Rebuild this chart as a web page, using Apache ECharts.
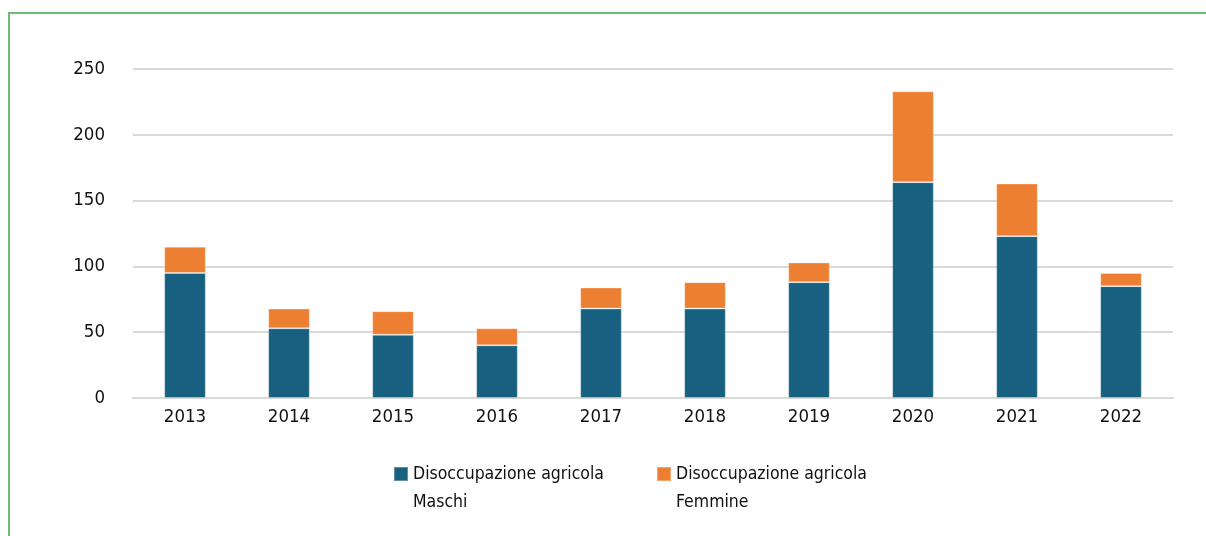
<!DOCTYPE html>
<html>
<head>
<meta charset="utf-8">
<style>
  html, body { margin: 0; padding: 0; background: #ffffff; }
  #chart { width: 1206px; height: 536px; }
</style>
<script src="https://cdn.jsdelivr.net/npm/echarts@6/dist/echarts.min.js"></script>
</head>
<body>
<div id="chart"></div>
<script>
// Agricultural unemployment by sex, 2013-2022 (thousands)
const years = ['2013', '2014', '2015', '2016', '2017', '2018', '2019', '2020', '2021', '2022'];
const maschi = [95, 53, 48, 40, 68, 68, 88, 164, 123, 85];
const femmine = [20, 15, 18, 13, 16, 20, 15, 69, 40, 10];
const seriesNames = ['Disoccupazione agricola\nMaschi', 'Disoccupazione agricola\nFemmine'];
const yTicks = [0, 50, 100, 150, 200, 250];

const FONT = '"DejaVu Sans Condensed", "DejaVu Sans", sans-serif';
const TEXT = '#111111';
const GRID = '#d9d9d9';

// legend swatch: a 14px square sitting beside the first line of a two-line label
const SWATCH = 'path://M0,0H14V14H0Z M0,42L0.01,42';

const chart = echarts.init(document.getElementById('chart'), null, { renderer: 'canvas' });

chart.setOption({
  animation: false,
  backgroundColor: '#ffffff',
  textStyle: { fontFamily: FONT, color: TEXT },
  graphic: [{
    type: 'polyline',
    silent: true,
    shape: { points: [[9, 540], [9, 13], [1210, 13]] },
    style: { stroke: '#6fba74', lineWidth: 2, fill: null }
  }],
  grid: { left: 133, right: 33, top: 69, bottom: 138, containLabel: false },
  legend: {
    left: 393,
    top: 460,
    padding: 0,
    itemWidth: 14,
    itemHeight: 42,
    itemGap: 52,
    icon: SWATCH,
    data: seriesNames,
    textStyle: {
      fontFamily: FONT,
      fontSize: 17.5,
      color: TEXT,
      lineHeight: 28
    }
  },
  xAxis: {
    type: 'category',
    data: years,
    axisTick: { show: false },
    axisLine: { lineStyle: { color: GRID, width: 2 } },
    axisLabel: { fontFamily: FONT, fontSize: 18.5, color: TEXT, margin: 10 }
  },
  yAxis: {
    type: 'value',
    min: yTicks[0],
    max: yTicks[yTicks.length - 1],
    interval: yTicks[1] - yTicks[0],
    axisLine: { show: false },
    axisTick: { show: false },
    splitLine: { lineStyle: { color: GRID, width: 2 } },
    axisLabel: { fontFamily: FONT, fontSize: 18.5, color: TEXT, margin: 28 }
  },
  series: [
    {
      name: seriesNames[0],
      type: 'bar',
      stack: 'totale',
      data: maschi,
      barWidth: '40%',
      itemStyle: { color: '#18607f', borderColor: 'rgba(255,255,255,0.3)', borderWidth: 1 }
    },
    {
      name: seriesNames[1],
      type: 'bar',
      stack: 'totale',
      data: femmine,
      barWidth: '40%',
      itemStyle: { color: '#ed7f33', borderColor: 'rgba(255,255,255,0.3)', borderWidth: 1 }
    }
  ]
});
</script>
</body>
</html>
